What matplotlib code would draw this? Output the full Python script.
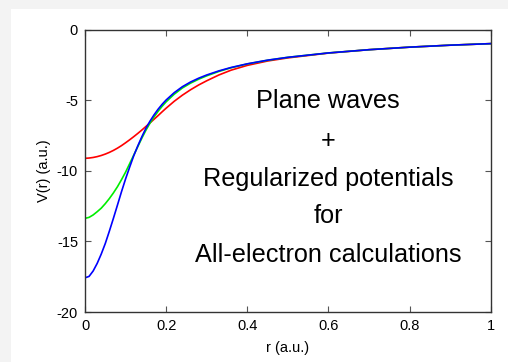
import matplotlib
matplotlib.use("Agg")
import matplotlib.pyplot as plt
from matplotlib.patches import Rectangle

plt.rcParams['font.family'] = ['Liberation Sans', 'DejaVu Sans']
plt.rcParams['axes.unicode_minus'] = False

# r grid (a.u.) and potentials
r = [0.0, 0.01, 0.02, 0.03, 0.04, 0.05, 0.06, 0.07, 0.08, 0.09,
     0.10, 0.11, 0.12, 0.13, 0.14, 0.15, 0.16, 0.17, 0.18, 0.19,
     0.20, 0.22, 0.24, 0.26, 0.28, 0.30, 0.33, 0.36, 0.40, 0.45,
     0.50, 0.60, 0.70, 0.80, 0.90, 1.00]

v_red = [-9.12, -9.10, -9.06, -9.00, -8.92, -8.82, -8.70, -8.56, -8.40, -8.22,
         -8.02, -7.81, -7.59, -7.36, -7.12, -6.87, -6.62, -6.36, -6.10, -5.83,
         -5.57, -5.08, -4.65, -4.27, -3.93, -3.63, -3.22, -2.88, -2.54, -2.23,
         -2.01, -1.67, -1.43, -1.25, -1.11, -1.00]

v_green = [-13.37, -13.30, -13.13, -12.90, -12.65, -12.33, -11.97, -11.57, -11.13, -10.63,
           -10.10, -9.50, -8.90, -8.30, -7.70, -7.14, -6.64, -6.20, -5.80, -5.44,
           -5.12, -4.58, -4.14, -3.80, -3.52, -3.28, -2.97, -2.71, -2.44, -2.18,
           -1.97, -1.66, -1.43, -1.25, -1.11, -1.00]

v_blue = [-17.58, -17.48, -17.10, -16.56, -15.90, -15.15, -14.28, -13.37, -12.43, -11.48,
          -10.58, -9.75, -8.95, -8.25, -7.60, -7.00, -6.50, -6.05, -5.65, -5.30,
          -4.99, -4.47, -4.05, -3.72, -3.45, -3.22, -2.93, -2.69, -2.43, -2.17,
          -1.97, -1.66, -1.43, -1.25, -1.11, -1.00]

text_lines = ["Plane waves", "+", "Regularized potentials", "for",
              "All-electron calculations"]

fig = plt.figure(figsize=(5.08, 3.62), dpi=100)
fig.patch.set_facecolor("#f3f3f3")
fig.patches.append(Rectangle((11 / 508, 0), 1, 1 - 9 / 362, transform=fig.transFigure,
                             facecolor="white", edgecolor="none", zorder=-10))

ax = fig.add_axes([85 / 508, 1 - 312 / 362, (490.7 - 85) / 508, (312 - 29.5) / 362])
ax.set_zorder(1)

ax.plot(r, v_red, color="#ff0000", lw=1.2)
ax.plot(r, v_green, color="#00ee00", lw=1.2)
ax.plot(r, v_blue, color="#0000ff", lw=1.2)

ax.set_xlim(0, 1)
ax.set_ylim(-20, 0)
ax.set_xticks([0, 0.2, 0.4, 0.6, 0.8, 1])
ax.set_xticklabels(["0", "0.2", "0.4", "0.6", "0.8", "1"])
ax.set_yticks([0, -5, -10, -15, -20])
ax.tick_params(direction="in", length=4, width=0.8, top=True, right=True,
               labelsize=10.5, colors="#555555", labelcolor="black", pad=5)
for s in ax.spines.values():
    s.set_color("#333333")
    s.set_linewidth(1.0)

ax.set_xlabel("r (a.u.)", fontsize=10.5, labelpad=6)
ax.set_ylabel("V(r) (a.u.)", fontsize=10.5, labelpad=4)

# text block on the right
ys = [101, 141, 179, 216, 255]
for t, yp in zip(text_lines, ys):
    ax.text(328 / 508, 1 - yp / 362, t, ha="center", va="center", fontsize=18.2,
            transform=fig.transFigure)

fig.savefig("out.png", dpi=100, facecolor=fig.get_facecolor())
